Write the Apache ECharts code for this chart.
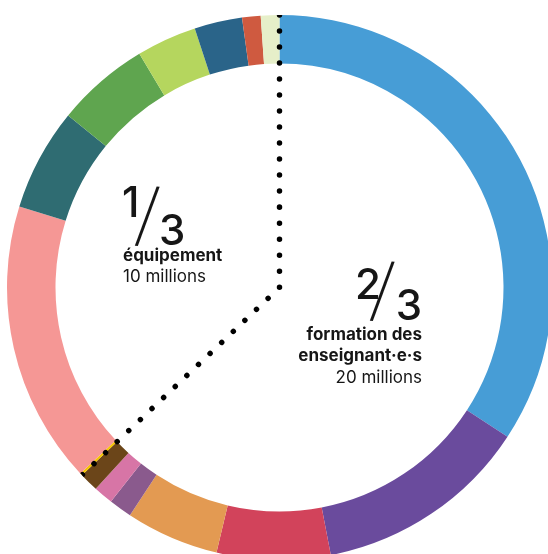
<!DOCTYPE html>
<html>
<head>
<meta charset="utf-8">
<script src="https://cdn.jsdelivr.net/npm/echarts@6/dist/echarts.min.js"></script>
<style>
  html, body { margin: 0; padding: 0; background: #fff; }
  #main { width: 548px; height: 554px; }
</style>
</head>
<body>
<div id="main"></div>
<script>
  // segments clockwise from the top, in millions
  var formationNames = ['f1', 'f2', 'f3', 'f4', 'f5', 'f6', 'f7'];
  var formationValues = [10.27, 3.83, 2.02, 1.66, 0.41, 0.35, 0.34];
  var formationColors = ['#479dd6', '#6a4b9d', '#d2435b', '#e39a52', '#8a5a8d', '#d775a6', '#6b4519'];

  var equipNames = ['e1', 'e2', 'e3', 'e4', 'e5', 'e6', 'e7', 'e8'];
  var equipValues = [0.04, 5.03, 1.82, 1.66, 1.07, 0.85, 0.33, 0.33];
  var equipColors = ['#f5c400', '#f59795', '#2f6c72', '#5fa54f', '#b5d65e', '#2a6489', '#cf5a40', '#e6efc9'];

  var sum = function (arr) { return arr.reduce(function (a, b) { return a + b; }, 0); };
  var formationTotal = sum(formationValues);
  var total = formationTotal + sum(equipValues);

  var pieData = [];
  formationValues.forEach(function (v, i) {
    pieData.push({ name: formationNames[i], value: v, itemStyle: { color: formationColors[i] } });
  });
  equipValues.forEach(function (v, i) {
    pieData.push({ name: equipNames[i], value: v, itemStyle: { color: equipColors[i] } });
  });

  var CX = 279.5, CY = 287.5, R_OUT = 272.5, R_IN = 224;
  var ink = '#161616';
  var font = 'Inter';

  var myChart = echarts.init(document.getElementById('main'));
  var option = {
    animation: false,
    polar: { center: [CX, CY], radius: [0, R_OUT] },
    angleAxis: { type: 'value', min: 0, max: total, startAngle: 90, clockwise: true, show: false },
    radiusAxis: { type: 'value', min: 0, max: 1, show: false },
    series: [
      {
        type: 'pie',
        center: [CX, CY],
        radius: [R_IN, R_OUT],
        startAngle: 90,
        clockwise: true,
        silent: true,
        label: { show: false },
        labelLine: { show: false },
        itemStyle: { borderWidth: 0 },
        data: pieData
      },
      {
        // dotted split: top -> centre -> end of the formation share
        type: 'line',
        coordinateSystem: 'polar',
        silent: true,
        z: 10,
        symbol: 'none',
        lineStyle: { color: '#000', width: 5.5, type: [0.01, 16], cap: 'round', join: 'round' },
        data: [[1, 0], [0, 0], [1, formationTotal]]
      }
    ],
    graphic: [
      // 1/3
      { type: 'text', x: 122, y: 204, style: { text: '1', font: '500 42px ' + font, fill: ink, align: 'left', verticalAlign: 'middle' } },
      { type: 'text', x: 147, y: 218, rotation: -0.09, style: { text: '/', font: '200 70px ' + font, fill: ink, align: 'center', verticalAlign: 'middle' } },
      { type: 'text', x: 159, y: 232, style: { text: '3', font: '500 42px ' + font, fill: ink, align: 'left', verticalAlign: 'middle' } },
      { type: 'text', x: 123, y: 256, style: { text: 'équipement', font: '700 17px ' + font, fill: ink, align: 'left', verticalAlign: 'middle' } },
      { type: 'text', x: 123, y: 277, style: { text: '10 millions', font: '400 17px ' + font, fill: ink, align: 'left', verticalAlign: 'middle' } },
      // 2/3
      { type: 'text', x: 355, y: 286, style: { text: '2', font: '500 42px ' + font, fill: ink, align: 'left', verticalAlign: 'middle' } },
      { type: 'text', x: 382, y: 293, rotation: -0.09, style: { text: '/', font: '200 70px ' + font, fill: ink, align: 'center', verticalAlign: 'middle' } },
      { type: 'text', x: 422, y: 307, style: { text: '3', font: '500 42px ' + font, fill: ink, align: 'right', verticalAlign: 'middle' } },
      { type: 'text', x: 422, y: 335, style: { text: 'formation des', font: '700 17px ' + font, fill: ink, align: 'right', verticalAlign: 'middle' } },
      { type: 'text', x: 422, y: 356, style: { text: 'enseignant·e·s', font: '700 17px ' + font, fill: ink, align: 'right', verticalAlign: 'middle' } },
      { type: 'text', x: 422, y: 378, style: { text: '20 millions', font: '400 17px ' + font, fill: ink, align: 'right', verticalAlign: 'middle' } }
    ]
  };
  myChart.setOption(option);
</script>
</body>
</html>
